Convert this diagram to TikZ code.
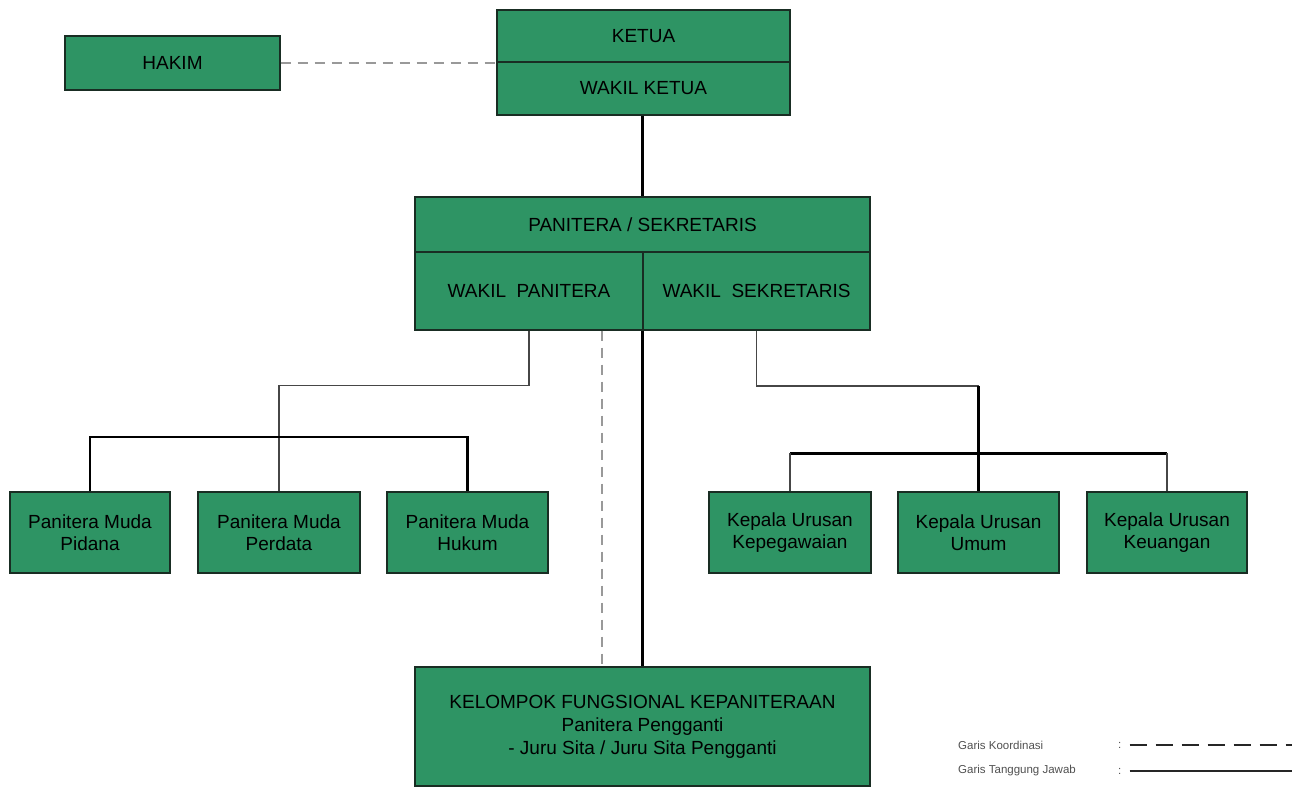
\documentclass[tikz,border=0pt]{standalone}
\usepackage{fontspec}
\setmainfont{Liberation Sans}
\definecolor{boxgreen}{RGB}{46,148,100}
\definecolor{boxline}{RGB}{25,45,35}
\definecolor{thinline}{RGB}{70,70,70}
\definecolor{legendtext}{RGB}{80,80,80}
\begin{document}
\begin{tikzpicture}[x=1pt,y=-1pt,
  orgbox/.style={draw=boxline, line width=1.2pt, fill=boxgreen, rectangle, inner sep=0pt,
     align=center, font=\fontsize{19}{22}\selectfont, text=black},
  thick line/.style={line width=2.6pt, black},
  thin line/.style={line width=1.4pt, thinline},
  dash line/.style={line width=1.4pt, gray!80, dash pattern=on 10pt off 7pt},
  legendlbl/.style={anchor=west, font=\fontsize{11.5}{13}\selectfont, text=legendtext, inner sep=0pt}
]
\useasboundingbox (0,0) rectangle (1300,787);

% boxes
\node[orgbox, minimum width=215pt, minimum height=54pt] (hakim) at (172.5,63) {HAKIM};
\node[orgbox, minimum width=293pt, minimum height=52pt] (ketua) at (643.5,36) {KETUA};
\node[orgbox, minimum width=293pt, minimum height=53pt] (wketua) at (643.5,88.5) {WAKIL KETUA};
\node[orgbox, minimum width=455pt, minimum height=55pt] (pan) at (642.5,224.5) {PANITERA / SEKRETARIS};
\node[orgbox, minimum width=228pt, minimum height=78pt] (wpan) at (529,291) {WAKIL\ \ PANITERA};
\node[orgbox, minimum width=227pt, minimum height=78pt] (wsek) at (756.5,291) {WAKIL\ \ SEKRETARIS};

\node[orgbox, minimum width=160pt, minimum height=81pt] (pidana) at (90,532.5) {Panitera Muda\\Pidana};
\node[orgbox, minimum width=162pt, minimum height=81pt] (perdata) at (279,532.5) {Panitera Muda\\Perdata};
\node[orgbox, minimum width=161pt, minimum height=81pt] (hukum) at (467.5,532.5) {Panitera Muda\\Hukum};

\node[orgbox, minimum width=162pt, minimum height=81pt] (kepeg) at (790,532.5) {Kepala Urusan\\Kepegawaian};
\node[orgbox, minimum width=161pt, minimum height=81pt] (umum) at (978.5,532.5) {Kepala Urusan\\Umum};
\node[orgbox, minimum width=160pt, minimum height=81pt] (keu) at (1167,532.5) {Kepala Urusan\\Keuangan};

\node[orgbox, minimum width=455pt, minimum height=119pt, font=\fontsize{19}{23}\selectfont] (kel) at (642.5,726.5)
  {KELOMPOK FUNGSIONAL KEPANITERAAN\\Panitera Pengganti\\- Juru Sita / Juru Sita Pengganti};

% connectors
\draw[dash line] (hakim.east) -- (hakim.east -| ketua.west);
\draw[thick line] (wsek.north west |- wketua.south) -- (wsek.north west |- pan.north);

% left branch
\draw[thin line] (wpan.south) -- ++(0,55) coordinate (l1) -| (perdata.north);
\coordinate (lbus) at (perdata.north |- 0,437);
\draw[thick line] (pidana.north) |- (lbus) -| (hukum.north);

% right branch
\coordinate (r1) at (umum.north |- 0,386);
\draw[thin line] (wsek.south) |- (r1);
\draw[thick line] (r1) -- (umum.north);
\coordinate (rbus) at (umum.north |- 0,453);
\draw[line width=3pt, black] (kepeg.north |- rbus) -- (keu.north |- rbus);
\draw[thin line] (kepeg.north |- rbus) -- (kepeg.north);
\draw[thin line] (keu.north |- rbus) -- (keu.north);

% central lines
\draw[thick line] (wsek.south west) -- (wsek.south west |- kel.north);
\path (wpan.south) ++(73,0) coordinate (d1);
\draw[dash line] (d1) -- (d1 |- kel.north);

% legend
\node[legendlbl] (lg1) at (958,745) {Garis Koordinasi};
\node[legendlbl] (lc1) at (1118,745) {:};
\node[legendlbl] (lg2) at (958,771) {Garis Tanggung Jawab};
\node[legendlbl] (lc2) at (1118,771) {:};
\coordinate (le1) at (1292,745);
\coordinate (le2) at (1292,771);
\draw[line width=1.6pt, black!85, dash pattern=on 17pt off 9pt] ([xshift=8pt]lc1.east) -- (le1);
\draw[line width=2pt, black!85] ([xshift=8pt]lc2.east) -- (le2);
\end{tikzpicture}
\end{document}
